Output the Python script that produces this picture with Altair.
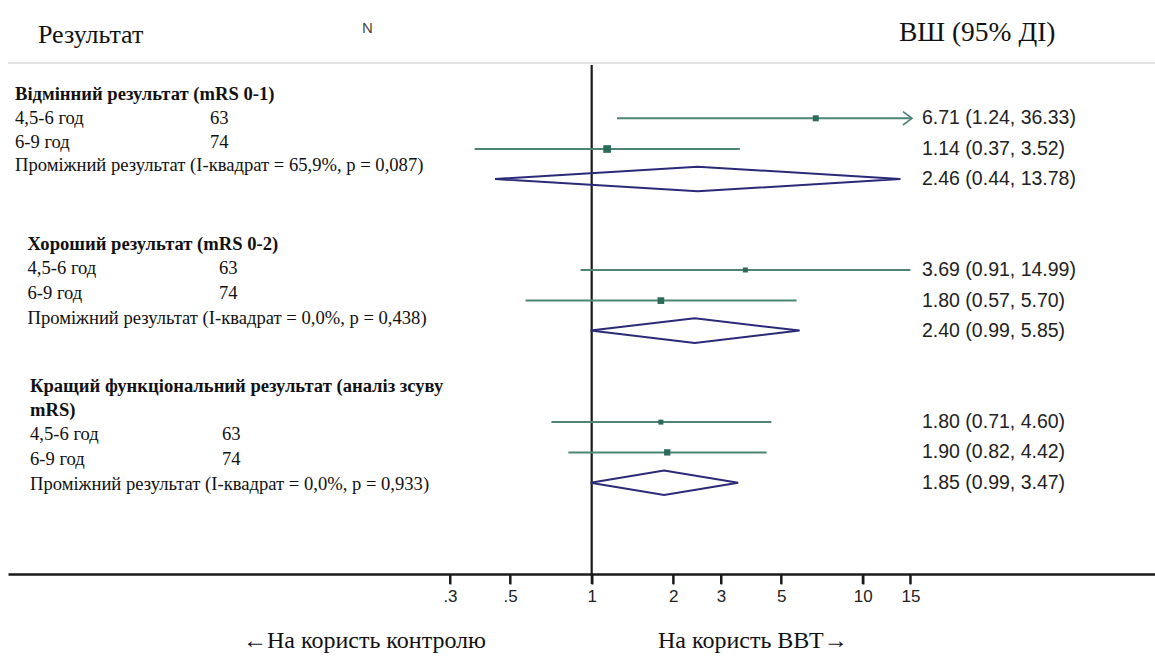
import altair as alt
import pandas as pd

# ---------------- data ----------------
group_titles = [
    "Відмінний результат (mRS 0-1)",
    "Хороший результат (mRS 0-2)",
    "Кращий функціональний результат (аналіз зсуву",
]
group_title_cont = ["", "", "mRS)"]
time_windows = ["4,5-6 год", "6-9 год"]
n_patients = [63, 74]
pooled_texts = [
    "Проміжний результат (I-квадрат = 65,9%, p = 0,087)",
    "Проміжний результат (I-квадрат = 0,0%, p = 0,438)",
    "Проміжний результат (I-квадрат = 0,0%, p = 0,933)",
]

study_or = [6.71, 1.14, 3.69, 1.80, 1.80, 1.90]
study_lo = [1.24, 0.37, 0.91, 0.57, 0.71, 0.82]
study_hi = [36.33, 3.52, 14.99, 5.70, 4.60, 4.42]
study_weight = [36, 59, 25, 45, 25, 40]   # relative box areas as drawn

pooled_or = [2.46, 2.40, 1.85]
pooled_lo = [0.44, 0.99, 0.99]
pooled_hi = [13.78, 5.85, 3.47]

tick_values = [0.3, 0.5, 1, 2, 3, 5, 10, 15]
tick_labels = [".3", ".5", "1", "2", "3", "5", "10", "15"]

header_left = "Результат"
header_n = "N"
header_right = "ВШ (95% ДІ)"
favours_left = "←На користь контролю"
favours_right = "На користь ВВТ→"

# ---------------- layout / style ----------------
PAD_L = 8
W = 1155 - PAD_L
H = 574
X_DOMAIN = [0.00702, 119.8]
CLIP_MAX = 15.2
Y_DOMAIN = [0, H / 30.0]

study_rows = [3.943, 4.967, 9.0, 10.02, 14.07, 15.08]
pooled_rows = [5.967, 11.02, 16.09]
text_rows = [
    [3.133, None, 3.933, 4.733, 5.5],
    [8.133, None, 8.933, 9.767, 10.6],
    [12.867, 13.667, 14.467, 15.3, 16.133],
]
text_x = [  # title, subgroups, N column, pooled (page px)
    [15, 15, 210, 15],
    [27.5, 27.5, 219, 27.5],
    [30, 30, 222, 30],
]

CI_COLOR = "#4d8575"
BOX_COLOR = "#2d6a5b"
DIA_COLOR = "#2a2a78"
AXIS_COLOR = "#1a1a1a"
SERIF = "Liberation Serif"
SANS = "Liberation Sans"
LEFT_FS = 18.6
TICK_LEN = 10


def px(x):
    return x - PAD_L


xscale = alt.Scale(type="log", domain=X_DOMAIN, nice=False, clamp=False)
yscale = alt.Scale(domain=Y_DOMAIN, reverse=True, nice=False, zero=False)

label_expr = ""
for v, lab in zip(tick_values, tick_labels):
    label_expr += f"abs(datum.value - {v}) < 1e-6 ? '{lab}' : "
label_expr += "''"

x_axis = alt.Axis(
    values=tick_values, labelExpr=label_expr, title=None, grid=False, ticks=True,
    domainColor=AXIS_COLOR, domainWidth=2.5, tickColor=AXIS_COLOR, tickWidth=2,
    tickSize=TICK_LEN, labelFont=SANS, labelFontSize=17, labelColor="#222",
    labelPadding=4, labelFlush=False, labelOverlap=False)

studies = pd.DataFrame({
    "or": study_or, "lo": study_lo, "hi": study_hi,
    "hi_c": [min(h, CLIP_MAX) for h in study_hi],
    "w": study_weight, "row": study_rows,
})
studies["label"] = [f"{o:.2f} ({l:.2f}, {h:.2f})" for o, l, h in zip(study_or, study_lo, study_hi)]
arrows = studies[studies["hi"] > CLIP_MAX].copy()
arrows["ax"] = CLIP_MAX

pooled = pd.DataFrame({"or": pooled_or, "lo": pooled_lo, "hi": pooled_hi, "row": pooled_rows})
pooled["label"] = [f"{o:.2f} ({l:.2f}, {h:.2f})" for o, l, h in zip(pooled_or, pooled_lo, pooled_hi)]

HH = 0.41
dia_pts = []
for g, (o, l, h, r) in enumerate(zip(pooled_or, pooled_lo, pooled_hi, pooled_rows)):
    for k, (xv, yv) in enumerate([(l, r), (o, r - HH), (h, r), (o, r + HH), (l, r)]):
        dia_pts.append({"g": g, "k": k, "x": xv, "y": yv})
diamonds = pd.DataFrame(dia_pts)

X = lambda f: alt.X(f, type="quantitative", scale=xscale, axis=x_axis)
Y = lambda f: alt.Y(f, type="quantitative", scale=yscale, axis=None)

ticks_df = pd.DataFrame({"v": tick_values})

layers = []
layers.append(alt.Chart(ticks_df).mark_point(opacity=0).encode(x=X("v"), y=alt.value(300)))
layers.append(alt.Chart(ticks_df).mark_rule(color=AXIS_COLOR, strokeWidth=2).encode(
    x=X("v"), y=alt.value(H), y2=alt.value(H + TICK_LEN)))
layers.append(alt.Chart(pd.DataFrame({"a": [0]})).mark_rule(color="#dadada", strokeWidth=1.5).encode(
    x=alt.value(px(8)), x2=alt.value(W), y=alt.value(63)))
layers.append(alt.Chart(pd.DataFrame({"v": [1]})).mark_rule(color=AXIS_COLOR, strokeWidth=2.2).encode(
    x=X("v"), y=alt.value(65), y2=alt.value(H)))
layers.append(alt.Chart(studies).mark_rule(color=CI_COLOR, strokeWidth=2).encode(
    x=X("lo"), x2="hi_c:Q", y=Y("row")))
layers.append(alt.Chart(arrows).mark_point(
    shape="M-1.35,-1L0,0L-1.35,1", filled=False, color=CI_COLOR, strokeWidth=1.6, size=180, opacity=1).encode(
    x=X("ax"), y=Y("row")))
layers.append(alt.Chart(studies).mark_square(color=BOX_COLOR, opacity=1).encode(
    x=X("or"), y=Y("row"), size=alt.Size("w:Q", scale=None, legend=None)))
layers.append(alt.Chart(diamonds).mark_line(color=DIA_COLOR, strokeWidth=2).encode(
    x=X("x"), y=Y("y"), detail="g:N", order="k:Q"))

right = pd.concat([studies[["row", "label"]], pooled[["row", "label"]]])
layers.append(alt.Chart(right).mark_text(
    align="left", baseline="middle", font=SANS, fontSize=19.5, color="#222").encode(
    x=alt.value(px(922)), y=Y("row"), text="label:N"))

for g in range(3):
    tr = text_rows[g]
    tx = text_x[g]
    layers.append(alt.Chart(pd.DataFrame({"t": [group_titles[g]], "row": [tr[0]]})).mark_text(
        align="left", baseline="middle", font=SERIF, fontSize=LEFT_FS, fontWeight="bold", color="#111").encode(
        x=alt.value(px(tx[0])), y=Y("row"), text="t:N"))
    if group_title_cont[g]:
        layers.append(alt.Chart(pd.DataFrame({"t": [group_title_cont[g]], "row": [tr[1]]})).mark_text(
            align="left", baseline="middle", font=SERIF, fontSize=LEFT_FS, fontWeight="bold", color="#111").encode(
            x=alt.value(px(tx[0])), y=Y("row"), text="t:N"))
    sub = pd.DataFrame({"t": time_windows, "n": [str(n) for n in n_patients], "row": [tr[2], tr[3]]})
    layers.append(alt.Chart(sub).mark_text(
        align="left", baseline="middle", font=SERIF, fontSize=LEFT_FS, color="#111").encode(
        x=alt.value(px(tx[1])), y=Y("row"), text="t:N"))
    layers.append(alt.Chart(sub).mark_text(
        align="left", baseline="middle", font=SERIF, fontSize=LEFT_FS, color="#111").encode(
        x=alt.value(px(tx[2])), y=Y("row"), text="n:N"))
    layers.append(alt.Chart(pd.DataFrame({"t": [pooled_texts[g]], "row": [tr[4]]})).mark_text(
        align="left", baseline="middle", font=SERIF, fontSize=LEFT_FS, color="#111").encode(
        x=alt.value(px(tx[3])), y=Y("row"), text="t:N"))


def label(text, x, y, font, size, color="#111", align="left"):
    return alt.Chart(pd.DataFrame({"t": [text]})).mark_text(
        align=align, baseline="middle", font=font, fontSize=size, color=color).encode(
        x=alt.value(px(x)), y=alt.value(y), text="t:N")


layers.append(label(header_left, 38, 35, SERIF, 26))
layers.append(label(header_n, 362, 28, SANS, 15, "#444"))
layers.append(label(header_right, 899, 33, SERIF, 27.5))
layers.append(label(favours_left, 243, 641, SERIF, 24))
layers.append(label(favours_right, 658, 641, SERIF, 24))

chart = alt.layer(*layers).properties(
    width=W, height=H,
    autosize=alt.AutoSizeParams(type="none"),
    padding={"left": PAD_L, "top": 0, "right": 0, "bottom": 657 - H},
    background="white",
).configure_view(stroke=None)

chart.save("out.html", embed_options={"renderer": "svg", "actions": False})
